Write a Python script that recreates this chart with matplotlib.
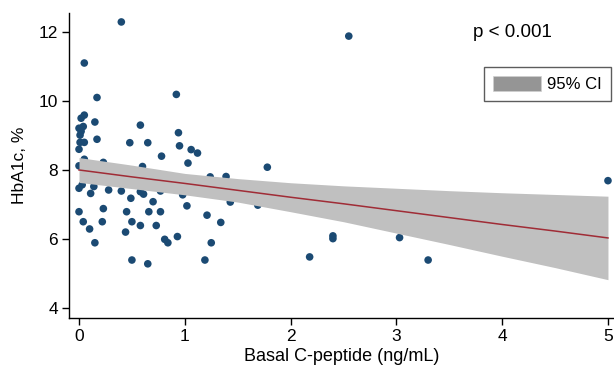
import matplotlib
matplotlib.use("Agg")
import matplotlib.pyplot as plt
from matplotlib.patches import Patch

plt.rcParams['font.family'] = ['Liberation Sans', 'DejaVu Sans']

# scatter data: basal C-peptide (ng/mL) vs HbA1c (%)
cpep = [0.40, 0.05, 2.55, 0.17, 0.92, 0.05, 0.02, 0.15, 0.58, 0.00,
        0.04, 0.94, 0.01, 0.17, 0.01, 0.05, 0.48, 0.65, 0.95, 1.06,
        1.12, 0.00, 0.78, 0.05, 0.23, 0.00, 1.03, 0.60, 1.24, 1.39,
        1.78, 0.00, 0.03, 0.11, 0.14, 0.28, 0.40, 0.49, 0.58, 0.61,
        0.77, 0.70, 0.98, 1.02, 1.43, 1.69, 0.00, 0.23, 0.45, 0.66,
        0.77, 0.04, 0.22, 0.50, 0.58, 0.73, 0.10, 0.44, 1.21, 1.34,
        0.93, 0.81, 0.84, 0.15, 1.25, 0.50, 0.65, 1.19, 2.18, 2.40,
        2.40, 3.03, 3.30, 5.00, 0.02]
hba1c = [12.29, 11.10, 11.88, 10.10, 10.19, 9.59, 9.50, 9.39, 9.30, 9.21,
         9.26, 9.08, 9.01, 8.89, 8.80, 8.80, 8.79, 8.79, 8.70, 8.59,
         8.49, 8.60, 8.40, 8.31, 8.22, 8.12, 8.20, 8.10, 7.80, 7.81,
         8.08, 7.47, 7.57, 7.32, 7.52, 7.42, 7.39, 7.18, 7.37, 7.30,
         7.39, 7.08, 7.28, 6.96, 7.07, 6.98, 6.79, 6.88, 6.79, 6.79,
         6.79, 6.50, 6.50, 6.50, 6.39, 6.39, 6.29, 6.20, 6.69, 6.48,
         6.07, 5.99, 5.89, 5.89, 5.89, 5.39, 5.28, 5.39, 5.48, 6.09,
         6.01, 6.04, 5.39, 7.69, 9.12]

# fitted regression line and 95% CI band
fit_x = [0.0, 0.5, 1.0, 1.5, 2.0, 2.5, 3.0, 3.5, 4.0, 4.5, 5.0]
fit_y = [8.00, 7.80, 7.61, 7.41, 7.21, 7.02, 6.82, 6.62, 6.42, 6.23, 6.03]
ci_hi = [8.36, 8.14, 7.90, 7.75, 7.63, 7.54, 7.47, 7.40, 7.34, 7.29, 7.24]
ci_lo = [7.64, 7.46, 7.28, 7.07, 6.79, 6.50, 6.17, 5.84, 5.50, 5.17, 4.82]

xticks = [0, 1, 2, 3, 4, 5]
yticks = [4, 6, 8, 10, 12]

fig = plt.figure(figsize=(6.14, 3.71), dpi=100)
ax = fig.add_axes([0.1124, 0.1429, 0.8876, 0.8221])

ax.scatter(cpep, hba1c, s=30, color='#1b4a73', edgecolors='none', zorder=2)
ax.fill_between(fit_x, ci_lo, ci_hi, color='#c0c0c0', linewidth=0, zorder=3)
ax.plot(fit_x, fit_y, color='#a02c36', linewidth=1.1, zorder=4)

ax.set_xlim(-0.0945, 5.057)
ax.set_ylim(3.71, 12.55)
ax.set_xticks(xticks)
ax.set_yticks(yticks)
ax.tick_params(axis='both', direction='out', length=5, width=1, labelsize=12.5,
               colors='black', pad=3)
for s in ['top', 'right']:
    ax.spines[s].set_visible(False)
for s in ['left', 'bottom']:
    ax.spines[s].set_linewidth(1)
    ax.spines[s].set_color('black')

ax.set_xlabel('Basal C-peptide (ng/mL)', fontsize=13, labelpad=3)
ax.set_ylabel('HbA1c, %', fontsize=12.5, labelpad=8)

fig.text(0.770, 0.913, 'p < 0.001', fontsize=13.5, ha='left', va='center')

handle = Patch(facecolor='#959595', edgecolor='#d0d0d0', linewidth=0.5)
leg = fig.legend([handle], ['95% CI'], loc='upper left',
                 bbox_to_anchor=(0.788, 0.819), bbox_transform=fig.transFigure,
                 borderaxespad=0, fontsize=12, frameon=True, fancybox=False,
                 handlelength=2.9, handleheight=0.95, handletextpad=0.35,
                 borderpad=0.55)
leg.get_frame().set_edgecolor('#333333')
leg.get_frame().set_linewidth(1)

fig.savefig('out.png', dpi=100)
